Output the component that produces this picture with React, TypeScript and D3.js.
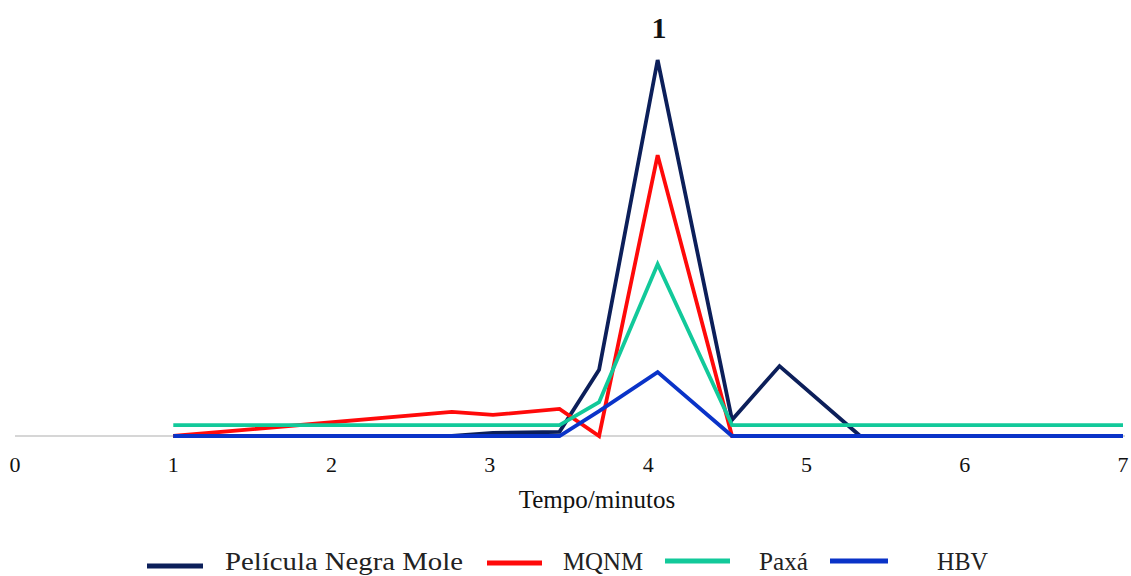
import { useEffect, useRef } from "react";
import * as d3 from "d3";

// time points (minutes) shared by all series
const times = [1, 2.76, 3.02, 3.44, 3.69, 4.06, 4.53, 4.83, 5.34, 7];

// relative signal, peak of Película Negra Mole = 100
const peliculaValues = [0, 0, 0.8, 1.1, 17.6, 100, 4.3, 18.6, 0, 0];
const mqnmValues = [0, 6.4, 5.6, 7.2, 0, 74.7, 0, 0, 0, 0];
const paxaValues = [2.9, 2.9, 2.9, 2.9, 9.0, 45.7, 2.9, 2.9, 2.9, 2.9];
const hbvValues = [0, 0, 0, 0, 6.6, 17.0, 0, 0, 0, 0];

const seriesNames = ["Película Negra Mole", "MQNM", "Paxá", "HBV"];
const seriesColors = ["#0c1f5a", "#ff0a0a", "#12c99a", "#0a33c8"];
const xTicks = [0, 1, 2, 3, 4, 5, 6, 7];

const W = 1131;
const H = 576;
const FONT = "'Liberation Serif', 'Times New Roman', serif";

const App = () => {
  const svgRef = useRef<SVGSVGElement>(null);

  useEffect(() => {
    const svg = d3.select(svgRef.current);
    svg.selectAll("*").remove();

    const x = d3.scaleLinear().domain([0, 7]).range([15, 1123]);
    const y = d3.scaleLinear().domain([0, 100]).range([436, 60]);

    // baseline
    svg
      .append("line")
      .attr("x1", x(0))
      .attr("x2", x(7) + 2)
      .attr("y1", y(0))
      .attr("y2", y(0))
      .attr("stroke", "#c8c8c8")
      .attr("stroke-width", 1.5);

    // tick labels
    svg
      .append("g")
      .selectAll("text")
      .data(xTicks)
      .enter()
      .append("text")
      .attr("x", (d) => x(d))
      .attr("y", 472)
      .attr("text-anchor", "middle")
      .attr("font-family", FONT)
      .attr("font-size", 22)
      .attr("fill", "#111")
      .text((d) => d);

    // axis title
    svg
      .append("text")
      .attr("x", 597)
      .attr("y", 508)
      .attr("text-anchor", "middle")
      .attr("font-family", FONT)
      .attr("font-size", 25)
      .attr("fill", "#111")
      .text("Tempo/minutos");

    // chart title
    svg
      .append("text")
      .attr("x", 659)
      .attr("y", 38)
      .attr("text-anchor", "middle")
      .attr("font-family", FONT)
      .attr("font-size", 30)
      .attr("font-weight", "bold")
      .attr("fill", "#111")
      .text("1");

    const allValues = [peliculaValues, mqnmValues, paxaValues, hbvValues];
    const line = d3
      .line<number>()
      .x((_, i) => x(times[i]))
      .y((d) => y(d));

    svg
      .append("g")
      .selectAll("path")
      .data(allValues)
      .enter()
      .append("path")
      .attr("d", (d) => line(d))
      .attr("fill", "none")
      .attr("stroke", (_, i) => seriesColors[i])
      .attr("stroke-width", 3.8)
      .attr("stroke-linejoin", "miter");

    // legend
    const legend = [
      { sx: 147, sw: 56, sy: 566, tx: 225, tw: 238 },
      { sx: 487, sw: 55, sy: 563, tx: 563, tw: 80 },
      { sx: 665, sw: 65, sy: 561, tx: 759, tw: 49 },
      { sx: 830, sw: 58, sy: 561, tx: 937, tw: 51 },
    ];
    const lg = svg.append("g");
    legend.forEach((l, i) => {
      lg.append("line")
        .attr("x1", l.sx)
        .attr("x2", l.sx + l.sw)
        .attr("y1", l.sy)
        .attr("y2", l.sy)
        .attr("stroke", seriesColors[i])
        .attr("stroke-width", 5);
      lg.append("text")
        .attr("x", l.tx)
        .attr("y", 570)
        .attr("font-family", FONT)
        .attr("font-size", 25)
        .attr("textLength", l.tw)
        .attr("lengthAdjust", "spacingAndGlyphs")
        .attr("fill", "#222")
        .text(seriesNames[i]);
    });
  }, []);

  return (
    <div style={{ position: "absolute", left: 0, top: 0 }}>
      <svg ref={svgRef} width={W} height={H} style={{ display: "block", background: "#fff" }}></svg>
    </div>
  );
};

export default App;
